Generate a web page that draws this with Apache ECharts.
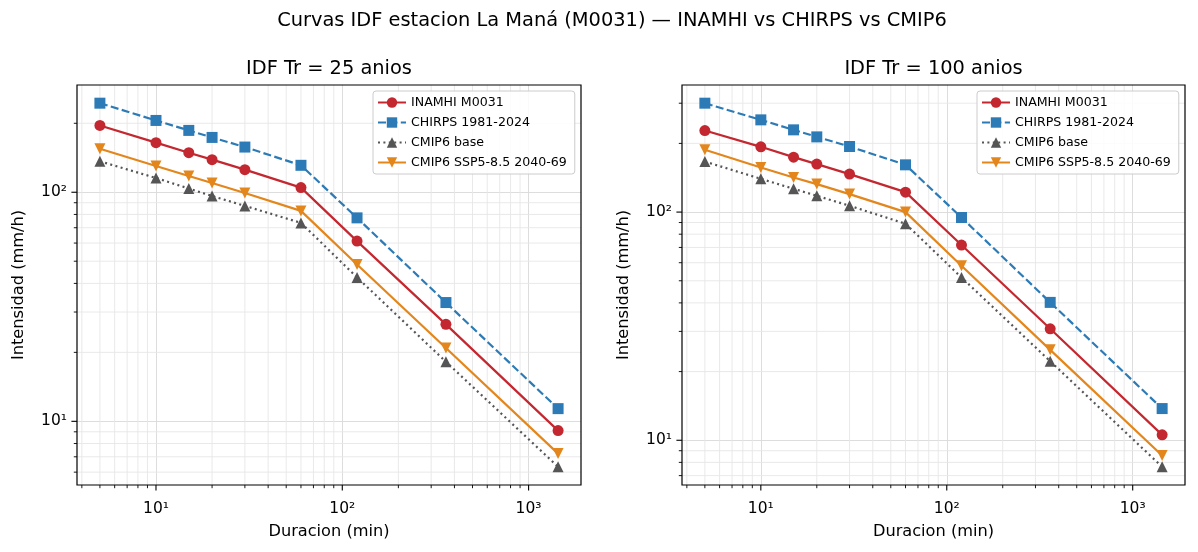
<!DOCTYPE html>
<html>
<head>
<meta charset="utf-8">
<script src="https://cdn.jsdelivr.net/npm/echarts@6/dist/echarts.min.js"></script>
<style>
html,body{margin:0;padding:0;background:#fff}
#chart{width:1198px;height:552px}
</style>
</head>
<body>
<div id="chart"></div>
<script>
// duraciones (min)
var durations = [5, 10, 15, 20, 30, 60, 120, 360, 1440];
var seriesNames = ['INAMHI M0031', 'CHIRPS 1981-2024', 'CMIP6 base', 'CMIP6 SSP5-8.5 2040-69'];

// Tr = 25 anios (mm/h)
var tr25Inamhi = [195.7, 164.6, 148.8, 138.8, 125.5, 104.8, 61.2, 26.5, 9.11];
var tr25Chirps = [244.8, 205.8, 186.2, 173.5, 157.5, 131.1, 77.3, 33.0, 11.36];
var tr25Base   = [136.5, 115.4, 103.8, 96.3, 87.2, 73.5, 42.5, 18.2, 6.33];
var tr25Ssp    = [154.9, 130.2, 117.8, 109.8, 99.3, 82.9, 48.4, 20.9, 7.23];

// Tr = 100 anios (mm/h)
var tr100Inamhi = [227.7, 193.2, 174.1, 162.3, 146.7, 122.3, 71.7, 30.8, 10.56];
var tr100Chirps = [300.1, 253.6, 229.3, 213.6, 193.8, 161.1, 94.7, 40.2, 13.77];
var tr100Base   = [166.5, 139.9, 126.5, 117.9, 106.6, 88.9, 51.7, 22.2, 7.65];
var tr100Ssp    = [187.5, 156.8, 141.8, 132.6, 119.9, 100.0, 58.2, 24.9, 8.57];

var supTitle = 'Curvas IDF estacion La Maná (M0031) — INAMHI vs CHIRPS vs CMIP6';
var panelTitles = ['IDF Tr = 25 anios', 'IDF Tr = 100 anios'];
var xName = 'Duracion (min)';
var yName = 'Intensidad (mm/h)';
var powLabels = {1: '10¹', 2: '10²', 3: '10³'};

var colors = ['#c3272f', '#2c7bb6', '#555555', '#e3861c'];
var symbols = ['circle', 'rect', 'triangle', 'triangle'];
var rotates = [0, 0, 0, 180];
var dashes = ['solid', [8, 3.4], [2, 3.4], 'solid'];
var FONT = 'DejaVu Sans';

var panels = [
    {data: [tr25Inamhi, tr25Chirps, tr25Base, tr25Ssp], left: 77, width: 504, legendLeft: 373, titleX: 329},
    {data: [tr100Inamhi, tr100Chirps, tr100Base, tr100Ssp], left: 682, width: 503, legendLeft: 977, titleX: 933.5}
];

// rango log con margen de 5% (como matplotlib)
function logRange(vals) {
    var lo = Math.log10(Math.min.apply(null, vals));
    var hi = Math.log10(Math.max.apply(null, vals));
    var pad = (hi - lo) * 0.05;
    return [Math.pow(10, lo - pad), Math.pow(10, hi + pad)];
}

// ticks 1..9 x 10^d dentro del rango, marca si es mayor
function logTicks(r) {
    var out = [];
    for (var d = Math.floor(Math.log10(r[0])); d <= Math.ceil(Math.log10(r[1])); d++) {
        for (var k = 1; k <= 9; k++) {
            var v = k * Math.pow(10, d);
            if (v > r[0] && v < r[1]) out.push([v, k === 1 ? 1 : 0]);
        }
    }
    return out;
}

function powFormatter(v) {
    var p = Math.round(Math.log10(v));
    return Math.abs(v - Math.pow(10, p)) < 1e-6 * v ? (powLabels[p] || '') : '';
}

var grids = [], xAxes = [], yAxes = [], series = [], legends = [], texts = [];

texts.push({type: 'text', x: 612, y: 21, z: 10, style: {text: supTitle, fill: '#000',
    font: '19.4px "DejaVu Sans"', textAlign: 'center', textVerticalAlign: 'middle'}});

panels.forEach(function (p, i) {
    var xr = logRange(durations);
    var allY = [].concat.apply([], p.data);
    var yr = logRange(allY);

    grids.push({left: p.left, top: 85, width: p.width, height: 400, show: true,
        borderColor: '#000', borderWidth: 1.2, backgroundColor: 'transparent',
        containLabel: false, outerBoundsMode: 'none', z: 5});

    xAxes.push({type: 'log', logBase: 10, gridIndex: i, min: xr[0], max: xr[1],
        name: xName, nameLocation: 'middle', nameGap: 39,
        nameTextStyle: {fontFamily: FONT, fontSize: 16.2, color: '#000'},
        axisLine: {show: false}, axisTick: {show: false},
        axisLabel: {formatter: powFormatter, margin: 16, fontFamily: FONT, fontSize: 15.5, color: '#000'},
        splitLine: {show: true, showMinLine: false, showMaxLine: false, lineStyle: {color: '#d9d9d9', width: 0.9}}});

    yAxes.push({type: 'log', logBase: 10, gridIndex: i, min: yr[0], max: yr[1],
        name: yName, nameLocation: 'middle', nameGap: 50,
        nameTextStyle: {fontFamily: FONT, fontSize: 16.2, color: '#000'},
        axisLine: {show: false}, axisTick: {show: false},
        axisLabel: {formatter: powFormatter, margin: 10, fontFamily: FONT, fontSize: 15.5, color: '#000'},
        splitLine: {show: true, showMinLine: false, showMaxLine: false, lineStyle: {color: '#d9d9d9', width: 0.9}}});

    // ticks menores/mayores y rejilla menor en X
    series.push({type: 'custom', xAxisIndex: i, yAxisIndex: i, silent: true, clip: false, z: 1,
        data: logTicks(xr).map(function (t) { return [t[0], yr[0], t[1]]; }),
        renderItem: function (params, api) {
            var v = api.value(0), major = api.value(2);
            var b = api.coord([v, yr[0]]), t = api.coord([v, yr[1]]);
            var ch = [{type: 'line', shape: {x1: b[0], y1: b[1], x2: b[0], y2: b[1] + (major ? 5.6 : 3.2)},
                style: {stroke: '#000', lineWidth: major ? 1.1 : 0.9}}];
            if (!major) ch.push({type: 'line', shape: {x1: t[0], y1: t[1], x2: b[0], y2: b[1]},
                style: {stroke: '#e6e6e6', lineWidth: 0.9}});
            return {type: 'group', children: ch};
        }});

    // ticks y rejilla menor en Y
    series.push({type: 'custom', xAxisIndex: i, yAxisIndex: i, silent: true, clip: false, z: 1,
        data: logTicks(yr).map(function (t) { return [xr[0], t[0], t[1]]; }),
        renderItem: function (params, api) {
            var v = api.value(1), major = api.value(2);
            var l = api.coord([xr[0], v]), r = api.coord([xr[1], v]);
            var ch = [{type: 'line', shape: {x1: l[0], y1: l[1], x2: l[0] - (major ? 5.6 : 3.2), y2: l[1]},
                style: {stroke: '#000', lineWidth: major ? 1.1 : 0.9}}];
            if (!major) ch.push({type: 'line', shape: {x1: l[0], y1: l[1], x2: r[0], y2: r[1]},
                style: {stroke: '#e6e6e6', lineWidth: 0.9}});
            return {type: 'group', children: ch};
        }});

    p.data.forEach(function (vals, k) {
        series.push({
            type: 'line', name: seriesNames[k], xAxisIndex: i, yAxisIndex: i, z: 3 + k,
            data: durations.map(function (d, j) { return [d, vals[j]]; }),
            symbol: symbols[k], symbolSize: 11, symbolRotate: rotates[k], showAllSymbol: true,
            lineStyle: {color: colors[k], width: 2.2, type: dashes[k]},
            itemStyle: {color: colors[k], borderWidth: 0},
            emphasis: {disabled: true}, animation: false
        });
    });

    legends.push({orient: 'vertical', left: p.legendLeft, top: 91,
        padding: [5, 8, 5, 4], itemWidth: 28, itemHeight: 13, itemGap: 7,
        backgroundColor: 'rgba(255,255,255,0.85)', borderColor: '#cccccc', borderWidth: 1, borderRadius: 3,
        textStyle: {fontFamily: FONT, fontSize: 12.6, color: '#000'},
        data: seriesNames, selectedMode: false, z: 8});

    texts.push({type: 'text', x: p.titleX, y: 69, z: 10, style: {text: panelTitles[i], fill: '#000',
        font: '19.4px "DejaVu Sans"', textAlign: 'center', textVerticalAlign: 'middle'}});
});

var chart = echarts.init(document.getElementById('chart'), null, {renderer: 'canvas'});
chart.setOption({
    backgroundColor: '#fff',
    animation: false,
    textStyle: {fontFamily: FONT},
    grid: grids,
    xAxis: xAxes,
    yAxis: yAxes,
    legend: legends,
    series: series,
    graphic: texts
});
</script>
</body>
</html>
